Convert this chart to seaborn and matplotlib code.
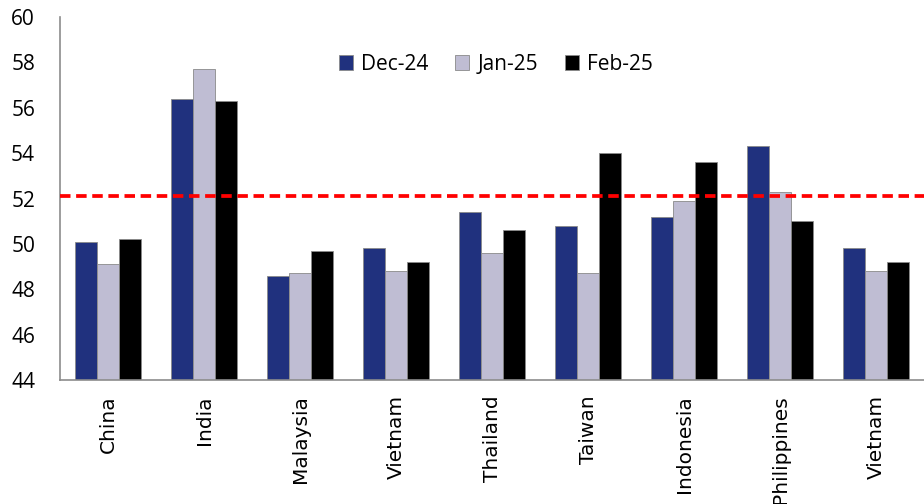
import matplotlib
matplotlib.use("Agg")
import matplotlib.pyplot as plt
import seaborn as sns
import pandas as pd

# PMI readings by economy
countries = ["China", "India", "Malaysia", "Vietnam", "Thailand",
             "Taiwan", "Indonesia", "Philippines", "Vietnam"]
months = ["Dec-24", "Jan-25", "Feb-25"]
dec_24 = [50.1, 56.4, 48.6, 49.8, 51.4, 50.8, 51.2, 54.3, 49.8]
jan_25 = [49.1, 57.7, 48.7, 48.8, 49.6, 48.7, 51.9, 52.3, 48.8]
feb_25 = [50.2, 56.3, 49.7, 49.2, 50.6, 54.0, 53.6, 51.0, 49.2]
reference_level = 52.1
y_ticks = [44, 46, 48, 50, 52, 54, 56, 58, 60]

palette = ["#20317E", "#BFBDD3", "#000000"]

rows = []
for series, vals in zip(months, [dec_24, jan_25, feb_25]):
    for i, v in enumerate(vals):
        rows.append({"slot": str(i), "month": series, "value": v})
df = pd.DataFrame(rows)

sns.set_theme(style="white")
plt.rcParams["font.family"] = ["Open Sans", "DejaVu Sans"]
plt.rcParams["text.color"] = "black"
plt.rcParams["xtick.color"] = "black"
plt.rcParams["ytick.color"] = "black"

fig = plt.figure(figsize=(9.24, 5.04), dpi=100)
ax = fig.add_axes([0.065, 0.246, 0.935, 0.72])

sns.barplot(data=df, x="slot", y="value", hue="month",
            order=[str(i) for i in range(len(countries))],
            hue_order=months, palette=palette, saturation=1,
            width=0.68, gap=0, edgecolor="#8a8a8a", linewidth=0.6,
            ax=ax, legend=True)

ax.axhline(reference_level, color="#FF0000", lw=2.7,
           dashes=(2.8, 1.5), zorder=5)

ax.set_ylim(44, 60)
ax.set_yticks(y_ticks)
ax.set_yticklabels([str(t) for t in y_ticks], fontsize=15)
ax.set_xlim(-0.5, len(countries) - 0.5)
ax.set_xticks(range(len(countries)))
ax.set_xticklabels(countries, rotation=90, fontsize=14.5,
                   family=["DejaVu Sans"])
ax.set_xlabel("")
ax.set_ylabel("")
ax.tick_params(axis="x", length=0, pad=11)
ax.tick_params(axis="y", length=0, pad=18)

for side in ["top", "right"]:
    ax.spines[side].set_visible(False)
for side in ["left", "bottom"]:
    ax.spines[side].set_color("#8c8c8c")
    ax.spines[side].set_linewidth(1.2)

ax.legend(loc="center", bbox_to_anchor=(0.5045, 0.87), ncol=3,
          frameon=False, fontsize=15, handlelength=0.65, handleheight=0.7,
          columnspacing=1.3, handletextpad=0.4)

fig.savefig("out.png", dpi=100)
